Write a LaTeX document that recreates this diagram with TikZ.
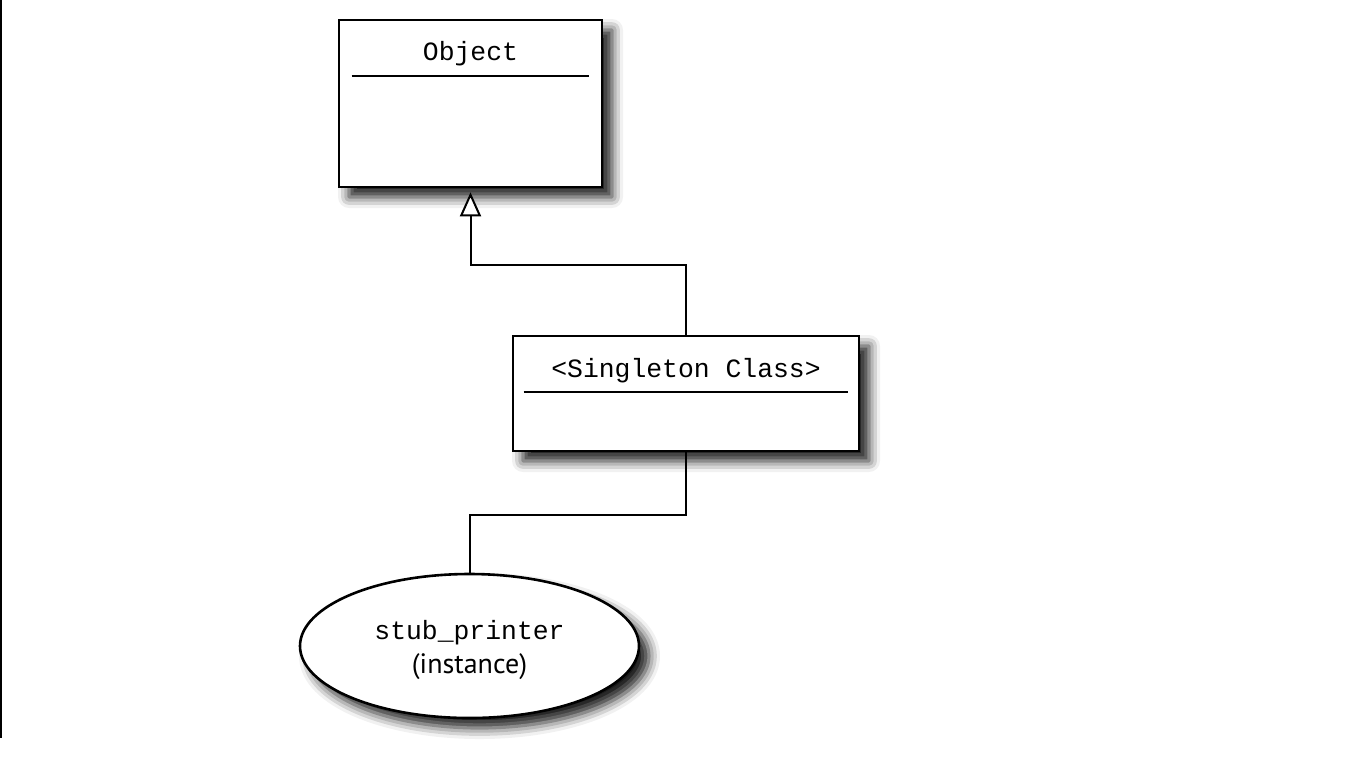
\documentclass[tikz,border=0pt]{standalone}
\usepackage{fontspec}
\setmainfont{PT Sans}
\setmonofont{Liberation Mono}
\usetikzlibrary{arrows.meta,shadows.blur,shapes.geometric}
\begin{document}
\begin{tikzpicture}[x=0.5pt, y=-0.5pt,
  umlbox/.style = {draw, line width=1.3pt, fill=white, rectangle,
     blur shadow={shadow xshift=5pt, shadow yshift=-5pt,
       shadow blur radius=5.5pt, shadow opacity=90}},
  instbox/.style = {umlbox, ellipse, inner sep=0pt},
  title/.style = {font=\ttfamily\fontsize{13.2}{16}\selectfont, inner sep=0pt},
  link/.style = {line width=1pt},
  inherit/.style = {link, -{Triangle[open, length=12pt, width=10.5pt, fill=white]},
     shorten >=2pt}]
\useasboundingbox (0,0) rectangle (1366,768);
\draw[line width=1pt] (1,0) -- (1,738);
\node [umlbox, minimum width=131.5pt, minimum height=83.5pt] (obj) at (470.5,103.5) {};
\node [title] (objname) at (470.5,54) {Object};
\draw [link] ([xshift=7pt,yshift=-28.5pt]obj.north west) -- ([xshift=-7pt,yshift=-28.5pt]obj.north east);
\node [umlbox, minimum width=173pt, minimum height=57.5pt] (single) at (686,393.5) {};
\node [title] (singlename) at (686,371) {<Singleton Class>};
\draw [link] ([xshift=6pt,yshift=-28.5pt]single.north west) -- ([xshift=-6pt,yshift=-28.5pt]single.north east);
\node [instbox, minimum width=169.5pt, minimum height=72pt] (inst) at (469.5,646) {};
\node [align=center, font=\fontsize{14}{17}\selectfont, inner sep=0pt] (instname) at (469.5,650)
  {{\ttfamily\fontsize{13.2}{17}\selectfont stub\_printer}\\(instance)};
\draw [inherit] (single.north) -- ++(0,-70) -| (obj.south);
\draw [link] (single.south) -- ++(0,63) -| (inst.north);
\end{tikzpicture}
\end{document}
